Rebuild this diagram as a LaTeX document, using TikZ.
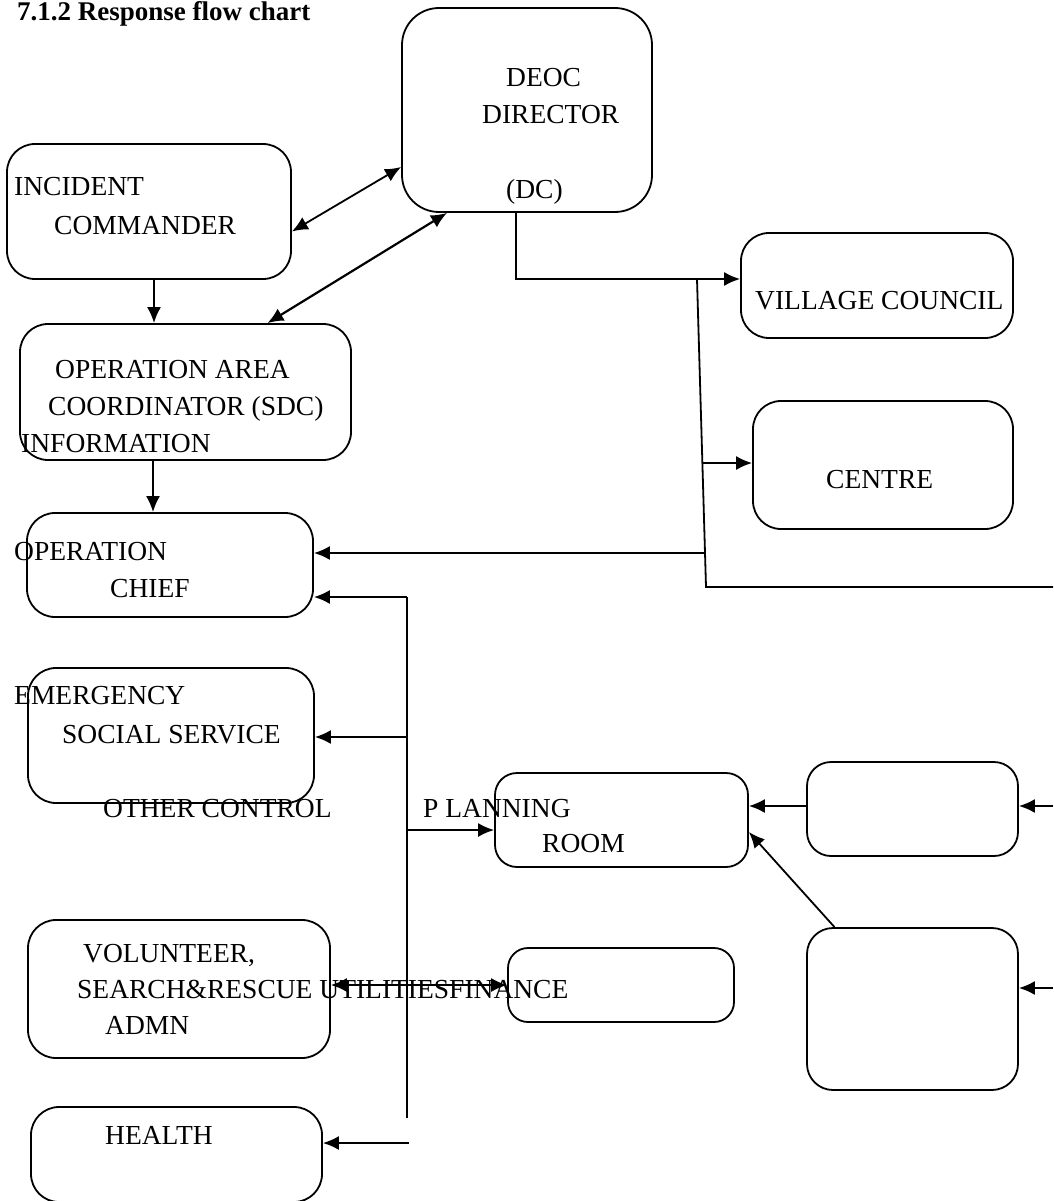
\documentclass[tikz,border=0pt]{standalone}
\usepackage{fontspec}
\setmainfont{Liberation Serif}
\usetikzlibrary{arrows.meta}

\begin{document}
\begin{tikzpicture}[x=1pt,y=-1pt,
  box/.style={draw,line width=1.8pt,rounded corners=28pt,inner sep=0pt},
  txt/.style={anchor=base west,inner sep=0pt,font=\fontsize{27.5pt}{32pt}\selectfont},
  wire/.style={line width=1.8pt},
  arr/.style={line width=1.8pt,-{Latex[length=16pt,width=14pt]}},
  twoway/.style={line width=1.8pt,{Latex[length=16pt,width=14pt]}-{Latex[length=16pt,width=14pt]}}]
  \useasboundingbox (0,0) rectangle (1053,1201);

  \node (title) [txt,font=\fontsize{27pt}{32pt}\selectfont\bfseries] at (17,21) {7.1.2 Response flow chart};

  \node (director) [box,rounded corners=37pt,minimum width=250pt,minimum height=204pt] at (527,110) {};
  \node (commander) [box,minimum width=284pt,minimum height=135pt] at (149,211.5) {};
  \node (coordinator) [box,minimum width=331pt,minimum height=136pt] at (185.5,392) {};
  \node (chief) [box,minimum width=286pt,minimum height=104pt] at (170,565) {};
  \node (social) [box,minimum width=286pt,minimum height=135pt] at (171,735.5) {};
  \node (volunteer) [box,minimum width=302pt,minimum height=138pt] at (179,989) {};
  \node (health) [box,minimum width=291pt,minimum height=95pt] at (176.5,1154.5) {};
  \node (council) [box,minimum width=272pt,minimum height=105pt] at (877,285.5) {};
  \node (centre) [box,minimum width=260pt,minimum height=128pt] at (883,465) {};
  \node (planning) [box,rounded corners=22pt,minimum width=253pt,minimum height=94pt] at (621.5,820) {};
  \node (finance) [box,rounded corners=20pt,minimum width=226pt,minimum height=74pt] at (621,985) {};
  \node (sideone) [box,rounded corners=24pt,minimum width=211pt,minimum height=94pt] at (912.5,809) {};
  \node (sidetwo) [box,rounded corners=26pt,minimum width=211pt,minimum height=162pt] at (912.5,1009) {};

  \node (deoc) [txt] at (506,87) {DEOC};
  \node (dir) [txt] at (482,124) {DIRECTOR};
  \node (dc) [txt] at (506,198) {(DC)};
  \node (incident) [txt] at (14,196) {INCIDENT};
  \node (cmdr) [txt] at (54,234) {COMMANDER};
  \node (oparea) [txt] at (55,378) {OPERATION AREA};
  \node (sdc) [txt] at (48,415) {COORDINATOR (SDC)};
  \node (info) [txt] at (21,452) {INFORMATION};
  \node (operation) [txt] at (14,560) {OPERATION};
  \node (chf) [txt] at (110,597) {CHIEF};
  \node (emergency) [txt] at (14,704) {EMERGENCY};
  \node (socserv) [txt] at (62,743) {SOCIAL SERVICE};
  \node (othercontrol) [txt] at (103,817) {OTHER CONTROL};
  \node (plan) [txt] at (423,817) {P LANNING};
  \node (room) [txt] at (542,852) {ROOM};
  \node (village) [txt] at (755,309) {VILLAGE COUNCIL};
  \node (ctr) [txt] at (826,488) {CENTRE};
  \node (vol) [txt] at (83,962) {VOLUNTEER,};
  \node (search) [txt] at (77,998) {SEARCH\&RESCUE UTILITIESFINANCE};
  \node (admn) [txt] at (105,1034) {ADMN};
  \node (hlth) [txt] at (105,1144) {HEALTH};

  \coordinate (split) at (697,279);
  \coordinate (bend) at (706,587);
  \coordinate (rim) at (1053,587);
  \coordinate (tocentre) at (703,463);
  \coordinate (tochief) at (705,553);
  \coordinate (bustop) at (407,597);
  \coordinate (busend) at (407,1118);
  \coordinate (tohealth) at (409,1143);
  \coordinate (inone) at (1053,806);
  \coordinate (intwo) at (1053,988);

  \draw[twoway] ([yshift=-20pt]commander.east) -- ([yshift=-57pt]director.west);
  \draw[twoway,line width=2.2pt] ([xshift=82pt]coordinator.north) -- ([xshift=-80pt]director.south);
  \draw[arr] ([xshift=5pt]commander.south) -- ([xshift=5pt]commander.south |- coordinator.north);
  \draw[arr] ([xshift=-32.5pt]coordinator.south) -- ([xshift=-32.5pt]coordinator.south |- chief.north);
  \draw[arr] ([xshift=-11pt]director.south) |- ([yshift=6.5pt]council.west);
  \draw[wire] (split) -- (bend) -- (rim);
  \draw[arr] (tocentre) -- (tocentre -| centre.west);
  \draw[arr] (tochief) -- (tochief -| chief.east);
  \draw[wire] (bustop) -- (busend);
  \draw[arr] (bustop) -- (bustop -| chief.east);
  \draw[arr] ([yshift=-1.5pt]social.east -| bustop) -- ([yshift=-1.5pt]social.east);
  \draw[arr] ([yshift=-10pt]planning.west -| bustop) -- ([yshift=-10pt]planning.west);
  \draw[twoway] (volunteer.east |- finance.west) -- (finance.west);
  \draw[arr] (tohealth) -- (tohealth -| health.east);
  \draw[arr] ([yshift=3pt]sideone.west) -- ([yshift=3pt]sideone.west -| planning.east);
  \draw[arr] ([xshift=-78pt]sidetwo.north) -- ([yshift=-12pt]planning.east);
  \draw[arr] (inone) -- (inone -| sideone.east);
  \draw[arr] (intwo) -- (intwo -| sidetwo.east);
\end{tikzpicture}
\end{document}
